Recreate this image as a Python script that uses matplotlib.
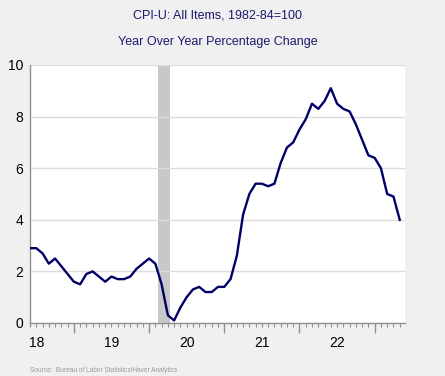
import numpy as np
import matplotlib.pyplot as plt
from matplotlib import rcParams

rcParams.update({"font.family": ["Liberation Sans", "DejaVu Sans"]})

# monthly CPI-U yoy %, Jun 2018 .. May 2023
cpi_yoy = [2.9, 2.9, 2.7, 2.3, 2.5, 2.2, 1.9,
           1.6, 1.5, 1.9, 2.0, 1.8, 1.6, 1.8, 1.7, 1.7, 1.8, 2.1, 2.3,
           2.5, 2.3, 1.5, 0.3, 0.1, 0.6, 1.0, 1.3, 1.4, 1.2, 1.2, 1.4,
           1.4, 1.7, 2.6, 4.2, 5.0, 5.4, 5.4, 5.3, 5.4, 6.2, 6.8, 7.0,
           7.5, 7.9, 8.5, 8.3, 8.6, 9.1, 8.5, 8.3, 8.2, 7.7, 7.1, 6.5,
           6.4, 6.0, 5.0, 4.9, 4.0]
start_year, start_month = 2018, 6
years = [2018, 2019, 2020, 2021, 2022]
year_labels = ['18', '19', '20', '21', '22']
recession = (2020 + 1.5 / 12, 2020 + 3.33 / 12)

x = start_year + (start_month - 1 + np.arange(len(cpi_yoy))) / 12

fig = plt.figure(figsize=(4.45, 3.76), dpi=100, facecolor='#f0f0f0')
ax = fig.add_axes([30 / 445, 53 / 376, 375 / 445, 258 / 376])
ax.set_facecolor('white')

ax.axvspan(recession[0], recession[1], color='#c8c8c8', lw=0, zorder=1)
ax.plot(x, cpi_yoy, color='#000066', linewidth=1.7, zorder=3)

ax.set_xlim(x[0], x[-1] + 0.07)
ax.set_ylim(0, 10)
ax.set_yticks([0, 2, 4, 6, 8, 10])
ax.grid(axis='y', color='#dcdcdc', linewidth=1, zorder=0)
ax.tick_params(axis='y', length=0, pad=5, labelsize=10)

ax.set_xticks([2019, 2020, 2021, 2022, 2023])
ax.set_xticklabels([])
months = np.arange(x[0], x[-1] + 0.08, 1 / 12)
ax.set_xticks(months, minor=True)
ax.tick_params(axis='x', which='major', direction='out', length=7, color='#909090', width=1)
ax.tick_params(axis='x', which='minor', direction='out', length=3, color='#909090', width=0.8)
for yr, lab in zip(years, year_labels):
    ax.text(yr + 0.5, -0.05, lab, transform=ax.get_xaxis_transform(),
            ha='center', va='top', fontsize=10)

for s in ['top', 'right']:
    ax.spines[s].set_visible(False)
for s in ['left', 'bottom']:
    ax.spines[s].set_color('#909090')
    ax.spines[s].set_linewidth(1)

fig.text(217.5 / 445, 1 - 15 / 376, 'CPI-U: All Items, 1982-84=100', ha='center', va='center',
         fontsize=9, color='#1a1a6e')
fig.text(217.5 / 445, 1 - 42 / 376, 'Year Over Year Percentage Change', ha='center', va='center',
         fontsize=9, color='#1a1a6e')
fig.text(30 / 445, 1 - 370 / 376, 'Source:  Bureau of Labor Statistics/Haver Analytics', ha='left',
         va='center', fontsize=4.7, color='#999999')

fig.savefig('out.png', dpi=100, facecolor=fig.get_facecolor())
